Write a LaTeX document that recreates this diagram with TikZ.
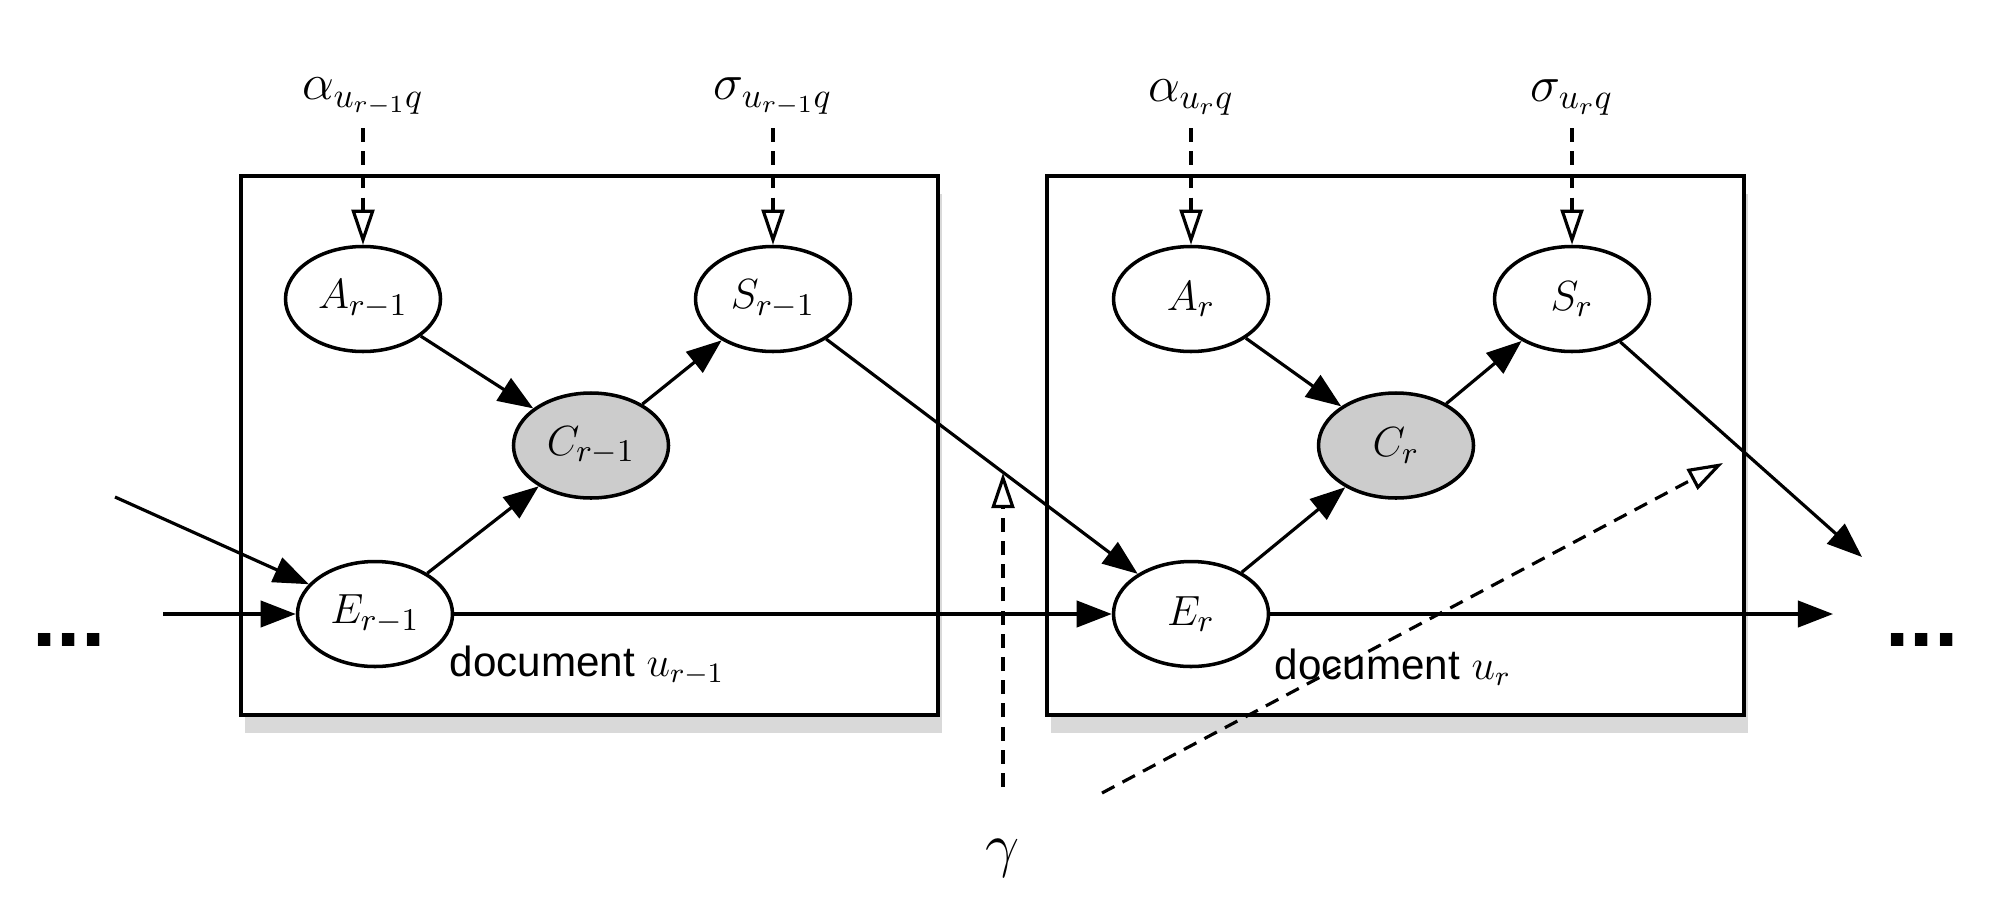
\documentclass[tikz,border=0pt]{standalone}
\usepackage{fontspec}
\setsansfont{Liberation Sans}
\usetikzlibrary{arrows.meta, shapes.geometric, shadows}

\begin{document}
\begin{tikzpicture}[
    var/.style={ellipse, draw, line width=1pt, fill=white, minimum width=1.55cm, minimum height=1.05cm, inner sep=0pt, font=\fontsize{13}{15}\selectfont},
    obs/.style={var, fill=black!20},
    plate/.style={rectangle, draw, line width=1.2pt, fill=white, minimum width=6.97cm, minimum height=5.39cm, drop shadow={shadow xshift=1pt, shadow yshift=-5pt, opacity=0.3}},
    param/.style={font=\Large, anchor=south},
    edge/.style={-{Triangle[length=10pt, width=7.5pt]}, line width=0.9pt},
    prior/.style={-{Triangle[open, length=10pt, width=6.5pt]}, line width=0.9pt, dash pattern=on 4pt off 2.6pt},
    dots/.style={font=\Huge\sffamily\bfseries, anchor=base},
]
\useasboundingbox (0,0) rectangle (20.16,9.2);

% document plates
\node[plate] (doc1) at (5.895,4.745) {};
\node[plate] (doc2) at (13.955,4.745) {};
\node[font=\large\sffamily] (lab1) at (5.87,2.54) {document $u_{r-1}$};
\node[font=\large\sffamily] (lab2) at (13.93,2.53) {document $u_r$};

% slice r-1
\node[var] (A1) at (3.63,6.21) {$A_{r-1}$};
\node[var] (S1) at (7.73,6.21) {$S_{r-1}$};
\node[obs] (C1) at (5.91,4.745) {$C_{r-1}$};
\node[var] (E1) at (3.75,3.06) {$E_{r-1}$};

% slice r
\node[var] (A2) at (11.91,6.21) {$A_r$};
\node[var] (S2) at (15.72,6.21) {$S_r$};
\node[obs] (C2) at (13.96,4.745) {$C_r$};
\node[var] (E2) at (11.91,3.06) {$E_r$};

% hyperparameters
\node[param] (al1) at (3.63,7.92) {$\alpha_{u_{r-1}q}$};
\node[param] (sg1) at (7.73,7.92) {$\sigma_{u_{r-1}q}$};
\node[param] (al2) at (11.91,7.92) {$\alpha_{u_rq}$};
\node[param] (sg2) at (15.72,7.92) {$\sigma_{u_rq}$};
\node[font=\LARGE] (gam) at (10.03,0.62) {$\gamma$};

\node[dots] (ldots) at (0.69,2.74) {...};
\node[dots] (rdots) at (19.22,2.74) {...};

% loose ends
\coordinate (in1) at (1.63,3.06);
\coordinate (in2) at (1.15,4.23);
\coordinate (out1) at (18.33,3.06);
\coordinate (out2) at (18.62,3.63);
\coordinate (g0) at (10.03,1.33);
\coordinate (g1) at (10.03,4.47);
\coordinate (h0) at (11.02,1.27);
\coordinate (h1) at (17.23,4.57);

\draw[edge] (A1) -- (C1);
\draw[edge] (C1) -- (S1);
\draw[edge] (E1) -- (C1);
\draw[edge] (A2) -- (C2);
\draw[edge] (C2) -- (S2);
\draw[edge] (E2) -- (C2);

\draw[edge] (in1) -- (E1);
\draw[edge] (in2) -- (E1);
\draw[edge] (E1) -- (E2);
\draw[edge] (S1) -- (E2);
\draw[edge] (E2) -- (out1);
\draw[edge] (S2) -- (out2);

\draw[prior] (al1) -- (A1);
\draw[prior] (sg1) -- (S1);
\draw[prior] (al2) -- (A2);
\draw[prior] (sg2) -- (S2);
\draw[prior] (g0) -- (g1);
\draw[prior] (h0) -- (h1);
\end{tikzpicture}
\end{document}
